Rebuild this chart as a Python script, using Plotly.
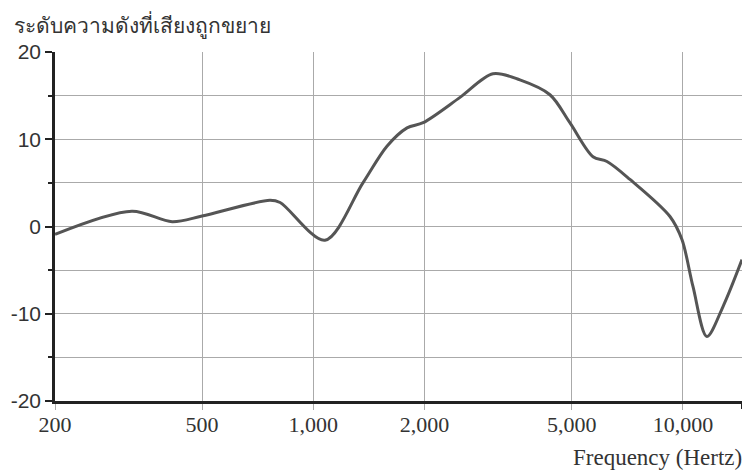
import math
import plotly.graph_objects as go

freq_hz = [200, 323, 415, 500, 763, 813, 1075, 1362, 1582, 1793, 1982, 2494, 3062,
           3622, 4368, 4944, 5710, 6230, 7190, 9225, 9940, 10650, 11610, 12830, 14450]
gain_db = [-0.9, 1.75, 0.55, 1.2, 3.0, 2.75, -1.57, 5.0, 9.2, 11.3, 11.9, 14.8, 17.5,
           16.8, 15.1, 11.9, 8.0, 7.45, 5.4, 1.15, -1.5, -6.9, -12.6, -9.2, -3.8]

x_tick_vals = [200, 500, 1000, 2000, 5000, 10000]
x_tick_text = ["200", "500", "1,000", "2,000", "5,000", "10,000"]
y_tick_vals = [-20, -10, 0, 10, 20]
y_tick_text = ["-20", "-10", "0", "10", "20"]

y_title = "ระดับความดังที่เสียงถูกขยาย"
x_title = "Frequency (Hertz)"

fig = go.Figure()
fig.add_trace(go.Scatter(
    x=freq_hz, y=gain_db, mode="lines",
    line=dict(color="#555555", width=3, shape="spline", smoothing=0.9),
    hoverinfo="skip", showlegend=False,
))

# page body has an 8px margin, so the figure is offset by 8px
fig.update_layout(
    width=742, height=464,
    margin=dict(l=47, r=8, t=44, b=71, autoexpand=False),
    plot_bgcolor="white", paper_bgcolor="white",
    xaxis=dict(
        type="log", range=[math.log10(200), math.log10(14450)],
        tickvals=x_tick_vals, ticktext=x_tick_text,
        showgrid=True, gridcolor="#aaaaaa", gridwidth=1,
        showline=True, linecolor="#222222", linewidth=2.5,
        ticks="outside", ticklen=6, tickcolor="#aaaaaa", tickwidth=1,
        ticklabelstandoff=-4,
        tickfont=dict(family="Liberation Serif, serif", size=22, color="#333333"),
        zeroline=False, automargin=False,
    ),
    yaxis=dict(
        range=[-20, 20],
        tickvals=y_tick_vals, ticktext=y_tick_text,
        showgrid=True, gridcolor="#aaaaaa", gridwidth=1,
        showline=True, linecolor="#222222", linewidth=2.5,
        ticks="outside", ticklen=7, tickcolor="#222222", tickwidth=1.5,
        tickfont=dict(family="Liberation Sans, Arial, sans-serif", size=21, color="#333333"),
        minor=dict(dtick=5, showgrid=True, gridcolor="#aaaaaa", ticks="outside",
                   ticklen=4, tickcolor="#222222"),
        zeroline=False, automargin=False,
    ),
    annotations=[
        dict(text=y_title, xref="paper", yref="paper", x=-43/687, y=1 + 27/349,
             xanchor="left", yanchor="middle", showarrow=False,
             font=dict(family="Noto Sans, DejaVu Sans, sans-serif", size=21, color="#333333")),
        dict(text=x_title, xref="paper", yref="paper", x=1 + 2/687, y=-57/349,
             xanchor="right", yanchor="middle", showarrow=False,
             font=dict(family="Liberation Serif, serif", size=23, color="#333333")),
    ],
    shapes=[
        dict(type="line", xref="paper", yref="paper", x0=1, x1=1, y0=0, y1=-8/349,
             line=dict(color="#222222", width=2)),
    ],
)

fig.write_html("out.html")
